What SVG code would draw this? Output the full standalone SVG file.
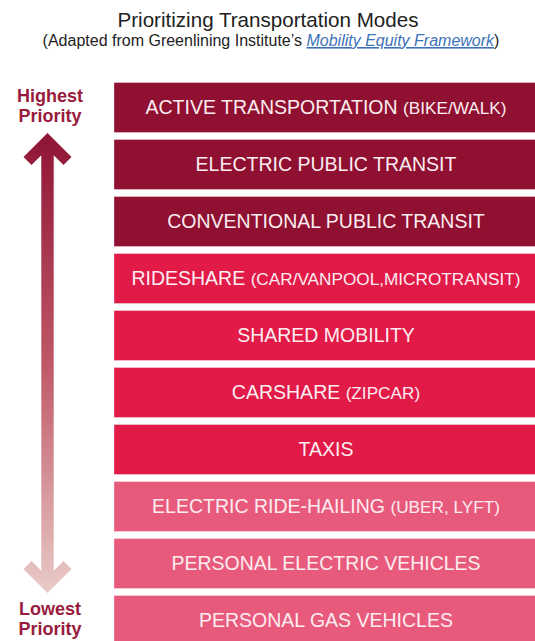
<svg xmlns="http://www.w3.org/2000/svg" width="535" height="641" viewBox="0 0 535 641">
<defs>
<style>
.title{font-family:"Liberation Sans",Arial,sans-serif;fill:#222;text-anchor:middle}
.lbl{font-family:"Liberation Sans",Arial,sans-serif;font-weight:bold;font-size:18px;fill:#981b3d;text-anchor:middle}
.bt{font-family:"Liberation Sans",Arial,sans-serif;font-size:19.5px;fill:#fdecf0;text-anchor:middle}
.sm{font-size:17.2px}
.dark{fill:#8f1030}
.mid{fill:#e11a48}
.light{fill:#e85a7c}
.bar{stroke:#ffffff;stroke-opacity:0.35;stroke-width:1}
</style>
<linearGradient id="ag" gradientUnits="userSpaceOnUse" x1="0" y1="133" x2="0" y2="593">
<stop offset="0" stop-color="#8f1434"/>
<stop offset="0.5" stop-color="#bf5767"/>
<stop offset="1" stop-color="#e9cbc7"/>
</linearGradient>
</defs>
<rect width="535" height="641" fill="#ffffff"/>
<g id="title">
<text class="title" x="268" y="27" font-size="20.6">Prioritizing Transportation Modes</text>
<text class="title" x="271" y="46" font-size="16">(Adapted from Greenlining Institute’s <tspan fill="#3d72b8" font-style="italic" text-decoration="underline">Mobility Equity Framework</tspan>)</text>
</g>
<g id="connectors">
<polygon fill="url(#ag)" points="47.5,133 71.5,157 63.5,165 53.7,155.2 53.7,570.8 63.5,561 71.5,569 47.5,593 23.5,569 31.5,561 41.3,570.8 41.3,155.2 31.5,165 23.5,157"/>
</g>
<g id="label-highest">
<text class="lbl" x="50" y="102">Highest</text>
<text class="lbl" x="50" y="122">Priority</text>
</g>
<g id="label-lowest">
<text class="lbl" x="50" y="615">Lowest</text>
<text class="lbl" x="50" y="635">Priority</text>
</g>
<g id="n1"><rect class="bar dark" x="114" y="82.5" width="430" height="50"/><text class="bt" x="326" y="114">ACTIVE TRANSPORTATION <tspan class="sm">(BIKE/WALK)</tspan></text></g>
<g id="n2"><rect class="bar dark" x="114" y="139.5" width="430" height="50"/><text class="bt" x="326" y="171">ELECTRIC PUBLIC TRANSIT</text></g>
<g id="n3"><rect class="bar dark" x="114" y="196.5" width="430" height="50"/><text class="bt" x="326" y="228">CONVENTIONAL PUBLIC TRANSIT</text></g>
<g id="n4"><rect class="bar mid" x="114" y="253.5" width="430" height="50"/><text class="bt" x="326" y="285">RIDESHARE <tspan class="sm">(CAR/VANPOOL,MICROTRANSIT)</tspan></text></g>
<g id="n5"><rect class="bar mid" x="114" y="310.5" width="430" height="50"/><text class="bt" x="326" y="342">SHARED MOBILITY</text></g>
<g id="n6"><rect class="bar mid" x="114" y="367.5" width="430" height="50"/><text class="bt" x="326" y="399">CARSHARE <tspan class="sm">(ZIPCAR)</tspan></text></g>
<g id="n7"><rect class="bar mid" x="114" y="424.5" width="430" height="50"/><text class="bt" x="326" y="456">TAXIS</text></g>
<g id="n8"><rect class="bar light" x="114" y="481.5" width="430" height="50"/><text class="bt" x="326" y="513">ELECTRIC RIDE-HAILING <tspan class="sm">(UBER, LYFT)</tspan></text></g>
<g id="n9"><rect class="bar light" x="114" y="538.5" width="430" height="50"/><text class="bt" x="326" y="570">PERSONAL ELECTRIC VEHICLES</text></g>
<g id="n10"><rect class="bar light" x="114" y="595.5" width="430" height="50"/><text class="bt" x="326" y="627">PERSONAL GAS VEHICLES</text></g>
</svg>
